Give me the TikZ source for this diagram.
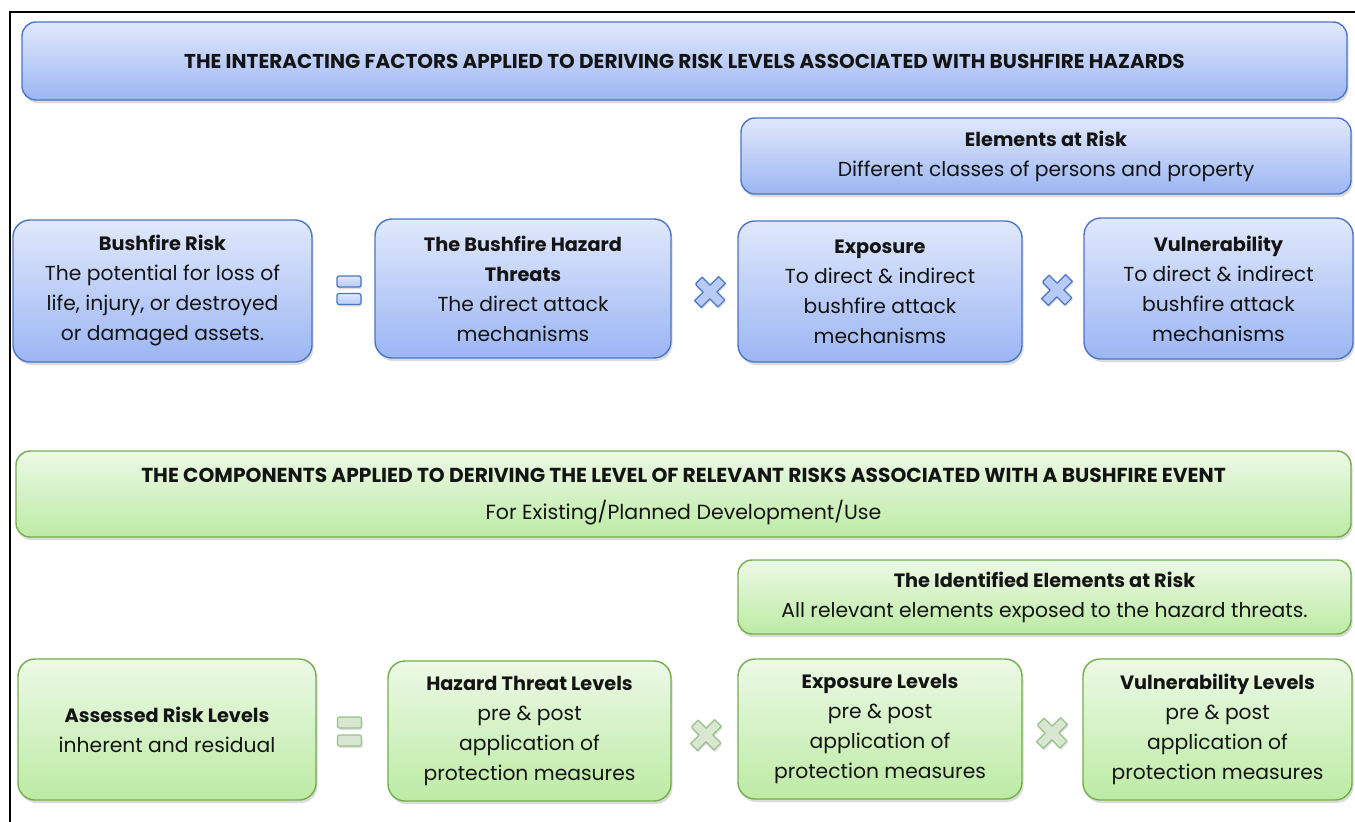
\documentclass[tikz,border=0pt]{standalone}
\usepackage{fontspec}
\setmainfont{Poppins}
\usetikzlibrary{shadows}
\definecolor{bluetop}{HTML}{E0E8FB}
\definecolor{bluebot}{HTML}{9CB6F4}
\definecolor{blueline}{HTML}{4A76C6}
\definecolor{greentop}{HTML}{EDF9E6}
\definecolor{greenbot}{HTML}{BCEBA4}
\definecolor{greenline}{HTML}{72AE4C}
\definecolor{symgreen}{HTML}{D9E6D2}
\definecolor{symgreenline}{HTML}{97C287}
\definecolor{symblue}{HTML}{B7CBF6}
\definecolor{txt}{HTML}{141414}
\newcommand{\hd}[1]{{\fontsize{19.3}{30}\selectfont\bfseries #1}}
\tikzset{
  box/.style={rectangle, rounded corners=17pt, line width=1.4pt, align=center,
    inner sep=0pt, text=txt, font=\fontsize{20.3}{30}\selectfont,
    drop shadow={opacity=0.28, shadow xshift=1.5pt, shadow yshift=-3pt}},
  bluebox/.style={box, draw=blueline, top color=bluetop, bottom color=bluebot},
  greenbox/.style={box, draw=greenline, top color=greentop, bottom color=greenbot},
  plain/.style={align=center, inner sep=0pt, text=txt},
  eqbar/.style={rectangle, rounded corners=2pt, line width=1.2pt, inner sep=0pt,
    minimum width=24pt, minimum height=11pt,
    drop shadow={opacity=0.25, shadow xshift=1pt, shadow yshift=-2pt}},
  cross/.style={line width=1.2pt, line join=round,
    drop shadow={opacity=0.25, shadow xshift=1pt, shadow yshift=-2pt}},
}
% multiplication sign drawn as a rotated plus
\newcommand{\timesmark}[3]{%
  \path[cross, draw=#2, fill=#3, shift={#1}, rotate=45, yscale=0.95]
    (-5,-17) -- (5,-17) -- (5,-5) -- (17,-5) -- (17,5) -- (5,5)
    -- (5,17) -- (-5,17) -- (-5,5) -- (-17,5) -- (-17,-5) -- (-5,-5)
    [rounded corners=2pt] -- cycle;}
\begin{document}
\begin{tikzpicture}[x=1pt,y=-1pt]
\useasboundingbox (0,0) rectangle (1355,822);
\fill[white] (0,0) rectangle (1355,822);
% frame lines
\coordinate (fr0) at (10,12);
\coordinate (fr1) at (1355,12);
\coordinate (fr2) at (10,822);
\draw[line width=2pt] (fr1) -- (fr0) -- (fr2);

% ---- upper panel: interacting factors
\node[bluebox, rounded corners=14pt, minimum width=1325pt, minimum height=78pt,
      font=\bfseries\fontsize{20}{24}\selectfont] (head1) at (684.5,61)
  {THE INTERACTING FACTORS APPLIED TO DERIVING RISK LEVELS ASSOCIATED WITH BUSHFIRE HAZARDS};
\node[bluebox, rounded corners=14pt, minimum width=610pt, minimum height=76pt] (elem) at (1046,156)
  {\hd{Elements at Risk}\\Different classes of persons and property};
\node[bluebox, minimum width=299pt, minimum height=142pt] (risk) at (162.5,291)
  {\hd{Bushfire Risk}\\The potential for loss of\\life, injury, or destroyed\\or damaged assets.};
\node[bluebox, minimum width=296pt, minimum height=139pt] (haz) at (523,288.5)
  {\hd{The Bushfire Hazard}\\\hd{Threats}\\The direct attack\\mechanisms};
\node[bluebox, minimum width=284pt, minimum height=141pt] (expo) at (880,291.5)
  {\hd{Exposure}\\To direct \& indirect\\bushfire attack\\mechanisms};
\node[bluebox, minimum width=269pt, minimum height=141pt] (vuln) at (1218.5,288.5)
  {\hd{Vulnerability}\\To direct \& indirect\\bushfire attack\\mechanisms};

% operators between the blue boxes
\node[eqbar, draw=blueline, top color=bluetop, bottom color=symblue] (eqa1) at (349,281.5) {};
\node[eqbar, draw=blueline, top color=bluetop, bottom color=symblue] (eqa2) at (349,299) {};
\timesmark{(710,292)}{blueline}{symblue}
\timesmark{(1057,290)}{blueline}{symblue}

% ---- lower panel: assessed components
\node[greenbox, rounded corners=14pt, minimum width=1335pt, minimum height=86pt] (head2) at (683.5,494) {};
\node[plain, font=\bfseries\fontsize{20.2}{24}\selectfont] (head2a) at (683.5,475)
  {THE COMPONENTS APPLIED TO DERIVING THE LEVEL OF RELEVANT RISKS ASSOCIATED WITH A BUSHFIRE EVENT};
\node[plain, font=\fontsize{20.5}{24}\selectfont] (head2b) at (683.5,512.5)
  {For Existing/Planned Development/Use};
\node[greenbox, rounded corners=14pt, minimum width=613pt, minimum height=74pt] (ident) at (1044.5,597)
  {\hd{The Identified Elements at Risk}\\All relevant elements exposed to the hazard threats.};
\node[greenbox, minimum width=298pt, minimum height=141pt] (assess) at (167,729.5)
  {\hd{Assessed Risk Levels}\\inherent and residual};
\node[greenbox, minimum width=283pt, minimum height=140pt] (hlev) at (529.5,731)
  {\hd{Hazard Threat Levels}\\pre \& post\\application of\\protection measures};
\node[greenbox, minimum width=284pt, minimum height=140pt] (elev) at (880,729)
  {\hd{Exposure Levels}\\pre \& post\\application of\\protection measures};
\node[greenbox, minimum width=269pt, minimum height=141pt] (vlev) at (1217.5,729.5)
  {\hd{Vulnerability Levels}\\pre \& post\\application of\\protection measures};

% operators between the green boxes
\node[eqbar, draw=symgreenline, fill=symgreen] (eqb1) at (349.5,722.5) {};
\node[eqbar, draw=symgreenline, fill=symgreen] (eqb2) at (349.5,740.5) {};
\timesmark{(706,735)}{symgreenline}{symgreen}
\timesmark{(1052,733)}{symgreenline}{symgreen}
\end{tikzpicture}
\end{document}
